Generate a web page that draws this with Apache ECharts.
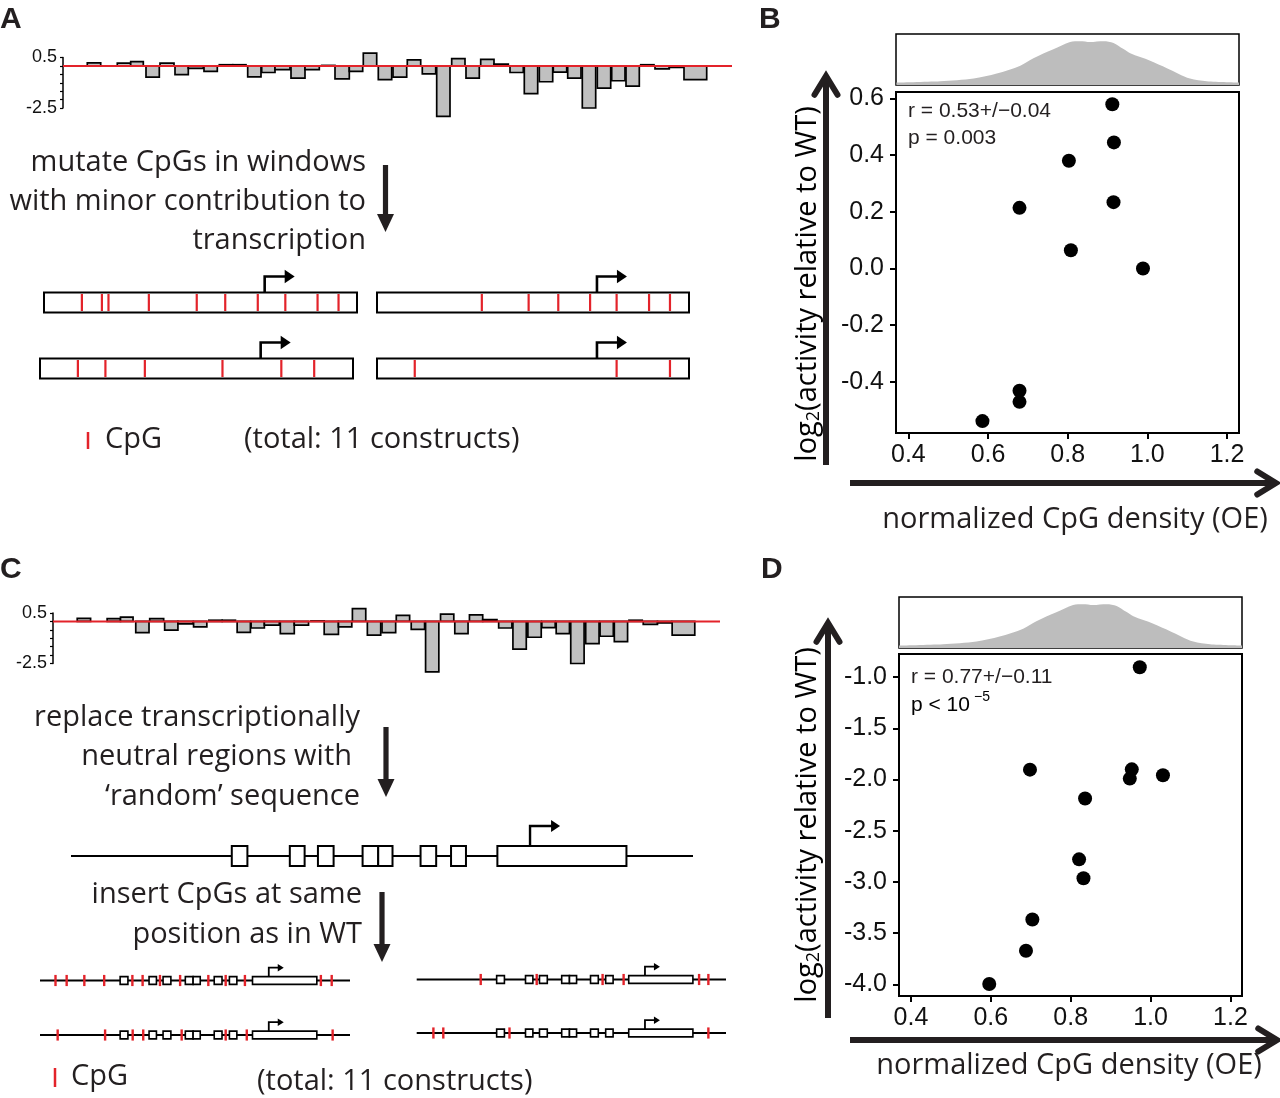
<!DOCTYPE html>
<html>
<head>
<meta charset="utf-8">
<script src="https://cdn.jsdelivr.net/npm/echarts@6/dist/echarts.min.js"></script>
<style>
  html, body { margin: 0; padding: 0; background: #fff; }
  #chart { width: 1280px; height: 1098px; }
</style>
</head>
<body>
<div id="chart"></div>
<script>
// 窗口位置（相对坐标轴起点）及其对转录的贡献 (log2)
const winStart = [24.3, 54.3, 67.7, 83, 97, 112, 125.3, 141, 156.3, 169.7, 184.7, 198.7, 212, 228, 242, 258.7, 272, 286.3, 300.3, 315.3, 330, 344.3, 359.3, 373.7, 388.7, 403, 417.7, 431, 447, 461.3, 476.3, 490.3, 504.7, 519.3, 534.3, 548.7, 563, 577.7, 592, 606.3, 621];
const winEnd = [37.7, 67.7, 80.3, 96.3, 111, 125.3, 140.3, 154.3, 169.7, 183, 198, 212, 227, 242, 256.3, 272, 286.3, 299.7, 313.7, 328.7, 343.7, 357.7, 372.7, 387, 402, 416.3, 431, 445.3, 460.3, 474.7, 489.7, 503.7, 518, 532.7, 547.7, 562, 576.3, 591, 606.3, 620.3, 643.7];
const winValue = [0.18, 0.17, 0.25, -0.67, 0.17, -0.52, -0.15, -0.32, 0.07, 0.07, -0.65, -0.39, -0.22, -0.72, -0.22, 0.03, -0.77, -0.32, 0.76, -0.82, -0.67, 0.36, -0.47, -3.0, 0.43, -0.73, 0.39, 0.11, -0.39, -1.65, -0.94, -0.37, -0.72, -2.5, -1.32, -0.88, -1.2, 0.07, -0.17, -0.09, -0.82];
const trackEnd = 669;

// A 中四个构建体的 CpG 位置（构建体长度的比例）
const cpgA1 = [0.121, 0.185, 0.206, 0.335, 0.488, 0.579, 0.683, 0.771, 0.874, 0.941];
const cpgA2 = [0.336, 0.486, 0.581, 0.683, 0.768, 0.872, 0.939];
const cpgA3 = [0.121, 0.209, 0.335, 0.583, 0.771, 0.876];
const cpgA4 = [0.121, 0.768, 0.939];
const tssA = 0.705;

// C 中保留区域（小框）、启动子框和 CpG 位置
const keptStart = [0.2585, 0.3518, 0.397, 0.4688, 0.4939, 0.562, 0.611];
const keptEnd = [0.2836, 0.3756, 0.4222, 0.4939, 0.5169, 0.5871, 0.635];
const promoter = [0.6855, 0.893];
const tssC = 0.738;
const cpgC1 = [0.05, 0.086, 0.143, 0.207, 0.298, 0.331, 0.387, 0.452, 0.543, 0.599, 0.661, 0.906, 0.941];
const cpgC2 = [0.207, 0.388, 0.601, 0.669, 0.913, 0.943];
const cpgC3 = [0.057, 0.21, 0.299, 0.333, 0.457, 0.599, 0.667, 0.944];
const cpgC4 = [0.054, 0.086, 0.3, 0.943];

// B 散点
const bX = [0.912, 0.916, 0.803, 0.679, 0.915, 0.808, 0.989, 0.679, 0.679, 0.586];
const bY = [0.58, 0.445, 0.38, 0.214, 0.234, 0.064, 0.0, -0.432, -0.471, -0.539];
// D 散点
const dX = [0.973, 0.698, 0.953, 0.948, 1.031, 0.836, 0.821, 0.832, 0.704, 0.688, 0.596];
const dY = [-0.903, -1.903, -1.9, -1.99, -1.957, -2.185, -2.779, -2.964, -3.366, -3.672, -3.997];

// 顶部 CpG 密度分布
const densX = [0.37, 0.48, 0.564, 0.622, 0.681, 0.714, 0.764, 0.806, 0.831, 0.856, 0.89, 0.915, 0.939, 0.957, 1.007, 1.049, 1.107, 1.149, 1.23];
const densY = [0.02, 0.046, 0.1, 0.2, 0.36, 0.51, 0.69, 0.84, 0.855, 0.84, 0.855, 0.82, 0.7, 0.61, 0.46, 0.31, 0.1, 0.046, 0.02];

// 刻度
const xTicks = [0.4, 0.6, 0.8, 1.0, 1.2];
const bTicks = [-0.4, -0.2, 0, 0.2, 0.4, 0.6];
const dTicks = [-4, -3.5, -3, -2.5, -2, -1.5, -1];

const INK = "#231f20";
const RED = "#e3232a";
const TXT = "Open Sans";
const NUM = "Liberation Sans";

const grids = [];
const xAxes = [];
const yAxes = [];
const series = [];

function addGrid(rect, x, y) {
    grids.push(Object.assign({ outerBoundsMode: "none", containLabel: false }, rect));
    const i = grids.length - 1;
    xAxes.push(Object.assign({ gridIndex: i, type: "value", show: false, splitLine: { show: false } }, x));
    yAxes.push(Object.assign({ gridIndex: i, type: "value", show: false, splitLine: { show: false } }, y));
    return i;
}

/**
 * 顶部的窗口贡献条形图
 */
function addTrack(left, top, width) {
    const g = addGrid(
        { left, top, width, height: 50.5 },
        { min: 0, max: trackEnd },
        {
            show: true,
            min: -2.5,
            max: 0.5,
            interval: 0.5,
            axisLine: { show: true, onZero: false, lineStyle: { color: "#000", width: 1.5 } },
            axisTick: { show: true, length: 3, lineStyle: { color: "#000", width: 1.2 } },
            axisLabel: {
                show: true,
                margin: 6,
                fontSize: 18,
                fontFamily: NUM,
                color: "#111",
                showMinLabel: true,
                showMaxLabel: true,
                formatter: v => (Math.abs(v - 0.5) < 1e-6 ? "0.5" : Math.abs(v + 2.5) < 1e-6 ? "-2.5" : ""),
            },
        }
    );
    series.push({
        type: "custom",
        xAxisIndex: g,
        yAxisIndex: g,
        data: winStart.map((s, i) => [s, winEnd[i], winValue[i]]),
        encode: { x: [0, 1], y: 2 },
        z: 2,
        renderItem(params, api) {
            const p0 = api.coord([api.value(0), 0]);
            const p1 = api.coord([api.value(1), api.value(2)]);
            return {
                type: "rect",
                shape: { x: p0[0], y: Math.min(p0[1], p1[1]), width: p1[0] - p0[0], height: Math.abs(p1[1] - p0[1]) },
                style: { fill: "#c0c0c0", stroke: "#000", lineWidth: 1.7 },
            };
        },
    });
    series.push({
        type: "line",
        xAxisIndex: g,
        yAxisIndex: g,
        data: [[0, 0], [trackEnd, 0]],
        showSymbol: false,
        lineStyle: { color: RED, width: 2 },
        z: 5,
    });
}

function cpgItem(lo, hi, width) {
    return function (params, api) {
        const a = api.coord([api.value(0), lo]);
        const b = api.coord([api.value(0), hi]);
        return { type: "line", shape: { x1: a[0], y1: a[1], x2: b[0], y2: b[1] }, style: { stroke: RED, lineWidth: width } };
    };
}

function rectItem(lw) {
    return function (params, api) {
        const a = api.coord([api.value(0), 1]);
        const b = api.coord([api.value(1), -1]);
        return {
            type: "rect",
            shape: { x: a[0], y: a[1], width: b[0] - a[0], height: b[1] - a[1] },
            style: { fill: "#fff", stroke: "#000", lineWidth: lw },
        };
    };
}

function arrowItem(h, w, head, lw) {
    return function (params, api) {
        const b = api.coord([api.value(0), api.value(1)]);
        const y = b[1] - h;
        return {
            type: "group",
            children: [
                {
                    type: "polyline",
                    shape: { points: [[b[0], b[1]], [b[0], y], [b[0] + w, y]] },
                    style: { stroke: "#000", lineWidth: lw, fill: null },
                },
                {
                    type: "polygon",
                    shape: { points: [[b[0] + w + head, y], [b[0] + w - 1, y - head * 0.75], [b[0] + w - 1, y + head * 0.75]] },
                    style: { fill: "#000" },
                },
            ],
        };
    };
}

/**
 * A 中的突变构建体
 */
function addBoxConstruct(left, top, width, cpg) {
    const g = addGrid({ left, top, width, height: 20 }, { min: 0, max: 1 }, { min: -1, max: 1 });
    const base = { type: "custom", xAxisIndex: g, yAxisIndex: g };
    series.push(Object.assign({}, base, { z: 3, data: [[0, 1]], renderItem: rectItem(2) }));
    series.push(Object.assign({}, base, { z: 4, data: cpg.map(p => [p, 0]), renderItem: cpgItem(-0.85, 0.85, 2.2) }));
    series.push(Object.assign({}, base, { z: 4, data: [[tssA, 1]], renderItem: arrowItem(16, 21, 9, 2.6) }));
}

/**
 * C 中的随机序列构建体
 */
function addGeneConstruct(left, centerY, width, height, cpg, sty) {
    const g = addGrid({ left, top: centerY - height / 2, width, height }, { min: 0, max: 1 }, { min: -1, max: 1 });
    const base = { type: "custom", xAxisIndex: g, yAxisIndex: g };
    series.push({
        type: "line",
        xAxisIndex: g,
        yAxisIndex: g,
        data: [[0, 0], [1, 0]],
        showSymbol: false,
        z: 1,
        lineStyle: { color: "#000", width: sty.line },
    });
    const boxes = keptStart.map((s, i) => [s, keptEnd[i]]).concat([promoter]);
    series.push(Object.assign({}, base, { z: 3, data: boxes, renderItem: rectItem(sty.box) }));
    series.push(Object.assign({}, base, { z: 4, data: [[tssC, 1]], renderItem: arrowItem(sty.ah, sty.aw, sty.head, sty.alw) }));
    if (cpg) {
        series.push(Object.assign({}, base, { z: 5, data: cpg.map(p => [p, 0]), renderItem: cpgItem(-1.45, 1.45, 2.4) }));
    }
}

/**
 * 散点图 + 顶部密度图
 */
function addScatter(left, width, dTop, sTop, sHeight, xr, yr, yTicks, xs, ys) {
    const gd = addGrid(
        { left, top: dTop, width, height: 51, show: true, borderColor: "#000", borderWidth: 1.5, backgroundColor: "transparent" },
        { min: xr[0], max: xr[1] },
        { min: -0.03, max: 1 }
    );
    series.push({
        type: "line",
        xAxisIndex: gd,
        yAxisIndex: gd,
        data: densX.map((x, i) => [x, densY[i]]),
        smooth: 0.3,
        showSymbol: false,
        lineStyle: { width: 0 },
        areaStyle: { color: "#bdbdbd", opacity: 1, origin: "start" },
    });
    const tickStyle = { show: true, length: 6, lineStyle: { color: "#000", width: 2 } };
    const labelStyle = { show: true, fontSize: 25, fontFamily: NUM, color: "#111", formatter: v => v.toFixed(1) };
    const gs = addGrid(
        { left, top: sTop, width, height: sHeight, show: true, borderColor: "#000", borderWidth: 2, backgroundColor: "transparent" },
        {
            show: true,
            min: xr[0],
            max: xr[1],
            axisLine: { show: false, onZero: false },
            axisTick: Object.assign({ customValues: xTicks }, tickStyle),
            axisLabel: Object.assign({ customValues: xTicks, margin: 10 }, labelStyle),
        },
        {
            show: true,
            min: yr[0],
            max: yr[1],
            axisLine: { show: false, onZero: false },
            axisTick: Object.assign({ customValues: yTicks }, tickStyle),
            axisLabel: Object.assign({ customValues: yTicks, margin: 12 }, labelStyle),
        }
    );
    series.push({
        type: "scatter",
        xAxisIndex: gs,
        yAxisIndex: gs,
        data: xs.map((x, i) => [x, ys[i]]),
        symbolSize: 14,
        itemStyle: { color: "#000", opacity: 1 },
    });
}

addTrack(63, 57.5, 669);
addTrack(53, 613, 667);

addBoxConstruct(44, 292.5, 313, cpgA1);
addBoxConstruct(377, 292.5, 312, cpgA2);
addBoxConstruct(40, 358.5, 313, cpgA3);
addBoxConstruct(377, 358.5, 312, cpgA4);

const wtStyle = { line: 2, box: 2, ah: 20, aw: 22, head: 8, alw: 2.4 };
const rowStyle = { line: 1.8, box: 1.6, ah: 9, aw: 10, head: 5, alw: 1.8 };
addGeneConstruct(71, 856, 622, 20, null, wtStyle);
addGeneConstruct(40, 980.5, 310, 7.7, cpgC1, rowStyle);
addGeneConstruct(416.7, 979.5, 309.3, 7.7, cpgC2, rowStyle);
addGeneConstruct(40, 1035, 310, 7.7, cpgC3, rowStyle);
addGeneConstruct(416.7, 1033, 309.3, 7.7, cpgC4, rowStyle);

addScatter(896, 343, 34, 92, 341, [0.369, 1.23], [-0.581, 0.623], bTicks, bX, bY);
addScatter(899, 343, 597, 654, 342, [0.37, 1.229], [-4.114, -0.773], dTicks, dX, dY);

// 注释文字与箭头
function txt(x, y, text, size, align, extra) {
    return {
        type: "text",
        x,
        y,
        z: 10,
        style: Object.assign({ text, fontSize: size, fontFamily: TXT, fill: INK, align, verticalAlign: "middle" }, extra || {}),
    };
}

function downArrow(x, y0, y1) {
    return [
        { type: "rect", shape: { x: x - 2.6, y: y0, width: 5.2, height: y1 - y0 - 16 }, style: { fill: INK } },
        { type: "polygon", shape: { points: [[x - 8.5, y1 - 18], [x + 8.5, y1 - 18], [x, y1]] }, style: { fill: INK } },
    ];
}

function axisArrow(x0, y0, x1, y1) {
    const ang = Math.atan2(y1 - y0, x1 - x0);
    const L = 22;
    const a1 = [x1 - L * Math.cos(ang - 0.55), y1 - L * Math.sin(ang - 0.55)];
    const a2 = [x1 - L * Math.cos(ang + 0.55), y1 - L * Math.sin(ang + 0.55)];
    return [
        { type: "line", shape: { x1: x0, y1: y0, x2: x1 - 2 * Math.cos(ang), y2: y1 - 2 * Math.sin(ang) }, style: { stroke: INK, lineWidth: 6 } },
        { type: "polyline", shape: { points: [a1, [x1, y1], a2] }, style: { stroke: INK, lineWidth: 6, fill: null, lineJoin: "miter", lineCap: "round" } },
    ];
}

const log2Rich = {
    a: { fontSize: 29, fontFamily: TXT, color: INK, lineHeight: 30, verticalAlign: "top" },
    s: { fontSize: 18, fontFamily: TXT, color: INK, lineHeight: 12, verticalAlign: "bottom" },
};

const graphic = [
    txt(0, 20, "A", 30, "left", { fontFamily: NUM, fontWeight: "bold" }),
    txt(759, 20, "B", 30, "left", { fontFamily: NUM, fontWeight: "bold" }),
    txt(0, 570, "C", 30, "left", { fontFamily: NUM, fontWeight: "bold" }),
    txt(761, 570, "D", 30, "left", { fontFamily: NUM, fontWeight: "bold" }),

    txt(366, 163, "mutate CpGs in windows", 29, "right"),
    txt(366, 202, "with minor contribution to", 29, "right"),
    txt(366, 241, "transcription", 29, "right"),
    ...downArrow(385.5, 165, 232),
    { type: "line", shape: { x1: 88, y1: 432, x2: 88, y2: 449 }, style: { stroke: RED, lineWidth: 2.5 } },
    txt(105, 440, "CpG", 29, "left"),
    txt(244, 440, "(total: 11 constructs)", 29, "left"),

    txt(360, 718, "replace transcriptionally", 29, "right"),
    txt(352, 757, "neutral regions with", 29, "right"),
    txt(360, 797, "\u2018random\u2019 sequence", 29, "right"),
    ...downArrow(386, 727, 797),
    txt(362, 895, "insert CpGs at same", 29, "right"),
    txt(362, 935, "position as in WT", 29, "right"),
    ...downArrow(382, 892, 962),
    { type: "line", shape: { x1: 55, y1: 1068, x2: 55, y2: 1087 }, style: { stroke: RED, lineWidth: 2.5 } },
    txt(71, 1077, "CpG", 29, "left"),
    txt(257, 1082, "(total: 11 constructs)", 29, "left"),

    txt(908, 111.7, "r = 0.53+/\u22120.04", 21, "left", { fontFamily: NUM }),
    txt(908, 138.3, "p = 0.003", 21, "left", { fontFamily: NUM }),
    txt(911, 677, "r = 0.77+/\u22120.11", 21, "left", { fontFamily: NUM }),
    {
        type: "text",
        x: 911,
        y: 703,
        z: 10,
        style: {
            text: "{m|p < 10}{u|\u22125}",
            align: "left",
            verticalAlign: "middle",
            rich: {
                m: { fontSize: 21, fontFamily: NUM, color: INK, lineHeight: 26, verticalAlign: "bottom" },
                u: { fontSize: 14, fontFamily: NUM, color: INK, lineHeight: 12, verticalAlign: "top", padding: [0, 0, 0, 4] },
            },
        },
    },

    ...axisArrow(826, 465, 826, 76),
    ...axisArrow(850, 483, 1276, 483),
    ...axisArrow(828, 1018, 828, 623),
    ...axisArrow(850, 1040, 1277, 1040),
    {
        type: "text",
        x: 808,
        y: 284,
        rotation: Math.PI / 2,
        z: 10,
        style: { text: "{a|log}{s|2}{a|(activity relative to WT)}", rich: log2Rich, align: "center", verticalAlign: "middle" },
    },
    {
        type: "text",
        x: 808,
        y: 825,
        rotation: Math.PI / 2,
        z: 10,
        style: { text: "{a|log}{s|2}{a|(activity relative to WT)}", rich: log2Rich, align: "center", verticalAlign: "middle" },
    },
    txt(1075, 520, "normalized CpG density (OE)", 29, "center"),
    txt(1069, 1066, "normalized CpG density (OE)", 29, "center"),
];

const chart = echarts.init(document.getElementById("chart"));
chart.setOption({
    animation: false,
    backgroundColor: "#fff",
    grid: grids,
    xAxis: xAxes,
    yAxis: yAxes,
    series,
    graphic,
});
</script>
</body>
</html>
